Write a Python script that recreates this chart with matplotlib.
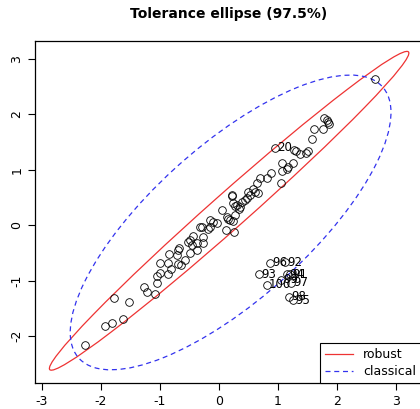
import numpy as np
import matplotlib.pyplot as plt
from matplotlib.patches import Ellipse
from matplotlib.lines import Line2D

plt.rcParams['axes.unicode_minus'] = False

pts_x = [-2.261, -1.927, -1.814, -1.627, -1.783, -1.521, -1.267, -1.211, -1.080, -1.041,
         -1.052, -0.996, -0.855, -0.804, -0.996, -0.852, -0.686, -0.640, -0.572, -0.838,
         -0.713, -0.686, -0.676, -0.488, -0.374, -0.517, -0.459, -0.374, -0.432, -0.262,
         -0.273, -0.318, -0.290, -0.178, -0.149, -0.098, -0.025, 0.049, 0.134, 0.161,
         0.190, 0.249, 0.274, 0.117, 0.262, 0.224, 0.218, 0.246, 0.274, 0.313,
         0.359, 0.347, 0.388, 0.444, 0.472, 0.500, 0.528, 0.574, 0.613, 0.669,
         0.652, 0.698, 0.821, 0.879, 1.065, 1.065, 1.150, 1.177, 1.053, 1.262,
         1.273, 1.307, 1.375, 1.477, 1.516, 1.573, 1.612, 1.770, 1.787, 1.827,
         1.854, 1.871, 2.645, -0.149, -0.488]
pts_y = [-2.168, -1.814, -1.765, -1.693, -1.309, -1.381, -1.121, -1.211, -1.242, -1.049,
         -0.917, -0.857, -0.881, -0.791, -0.688, -0.679, -0.700, -0.718, -0.628, -0.525,
         -0.538, -0.448, -0.406, -0.507, -0.448, -0.298, -0.357, -0.316, -0.195, -0.208,
         -0.327, -0.038, -0.027, -0.074, 0.094, 0.058, 0.045, 0.269, 0.153, 0.116,
         0.094, 0.076, 0.184, -0.087, -0.117, 0.551, 0.527, 0.395, 0.347, 0.365,
         0.334, 0.301, 0.413, 0.455, 0.486, 0.605, 0.545, 0.648, 0.605, 0.576,
         0.756, 0.847, 0.847, 0.951, 1.117, 0.982, 1.009, 1.042, 0.756, 1.128,
         1.357, 1.343, 1.285, 1.312, 1.339, 1.547, 1.736, 1.736, 1.930, 1.899,
         1.868, 1.821, 2.639, -0.027, -0.267]

# flagged observations
lab_ids = ['20', '91', '92', '93', '94', '95', '96', '97', '98', '99', '100']
lab_x = [0.952, 1.206, 1.121, 0.676, 1.160, 1.257, 0.867, 1.223, 1.189, 1.053, 0.808]
lab_y = [1.399, -0.881, -0.670, -0.881, -0.881, -1.359, -0.677, -1.038, -1.291, -0.989, -1.079]

# location / scatter estimates
rob_center = [0.175, 0.26]
rob_cov = [[1.256, 1.1741], [1.1741, 1.122]]
cla_center = [0.2, 0.05]
cla_cov = [[1.0, 0.73], [0.73, 0.959]]
q = np.sqrt(7.378)   # sqrt(qchisq(0.975, 2))


def tol_ellipse(center, cov, **kw):
    vals, vecs = np.linalg.eigh(np.array(cov))
    ang = np.degrees(np.arctan2(vecs[1, 1], vecs[0, 1]))
    return Ellipse(center, 2 * q * np.sqrt(vals[1]), 2 * q * np.sqrt(vals[0]),
                   angle=ang, fill=False, **kw)


fig = plt.figure(figsize=(4.2, 4.09), dpi=100)
ax = fig.add_axes([0.0833, 0.0636, 0.919, 0.8362])

ax.plot(pts_x + lab_x, pts_y + lab_y, 'o', mfc='none', mec='black', ms=5.5, mew=0.6)
for i, t in enumerate(lab_ids):
    ax.annotate(t, (lab_x[i], lab_y[i]), xytext=(1.5, 0), textcoords='offset points',
                ha='left', va='center', fontsize=8.5)

ax.add_patch(tol_ellipse(rob_center, rob_cov, ec='#ee3333', lw=0.9))
ax.add_patch(tol_ellipse(cla_center, cla_cov, ec='#3333ee', lw=0.9, ls=(0, (4, 3))))

ax.set_xlim(-3.113, 3.424)
ax.set_ylim(-2.848, 3.325)
ax.set_xticks([-3, -2, -1, 0, 1, 2, 3])
ax.set_yticks([-2, -1, 0, 1, 2, 3])
ax.tick_params(direction='out', length=5, width=0.8, labelsize=9)
for lbl in ax.get_yticklabels():
    lbl.set_rotation(90)
    lbl.set_va('center')
for s in ax.spines.values():
    s.set_linewidth(0.9)

handles = [Line2D([], [], color='#ee3333', lw=0.9),
           Line2D([], [], color='#3333ee', lw=0.9, ls=(0, (4, 3)))]
leg = ax.legend(handles, ['robust', 'classical'], loc='lower right', fontsize=9,
                fancybox=False, framealpha=1, edgecolor='black', borderaxespad=0,
                handlelength=2.2, labelspacing=0.3)
leg.get_frame().set_linewidth(0.8)

fig.suptitle('Tolerance ellipse (97.5%)', x=0.545, y=0.983, fontsize=10, fontweight='bold')
fig.savefig('out.png', dpi=100)
